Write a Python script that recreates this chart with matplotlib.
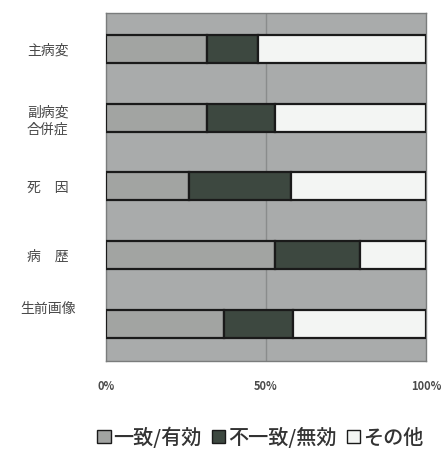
import numpy as np
import matplotlib.pyplot as plt
import matplotlib.transforms as mtransforms
from matplotlib.patches import Patch

plt.rcParams['font.family'] = ['Noto Sans CJK JP', 'DejaVu Sans']

categories = ['主病変', '副病変\n合併症', '死　因', '病　歴', '生前画像']
agree = [31.5, 31.5, 26.0, 53.0, 37.0]      # 一致/有効
disagree = [16.0, 21.5, 32.0, 26.5, 21.5]   # 不一致/無効
other = [52.5, 47.0, 42.0, 20.5, 41.5]      # その他
legend_labels = ['一致/有効', '不一致/無効', 'その他']
xticks = [0, 50, 100]

colors = ['#a2a4a2', '#3d4840', '#f3f5f3']
text_color = '#4a4a4a'

fig = plt.figure(figsize=(4.45, 4.53), dpi=100)
ax = fig.add_axes([0.238, 0.203, 0.719, 0.768])
ax.set_facecolor('#a9abab')

y = np.arange(len(categories))
left = np.zeros(len(categories))
for vals, c in zip([agree, disagree, other], colors):
    ax.barh(y, vals, left=left, height=0.41, color=c,
            edgecolor='#1a1a1a', linewidth=1.6, zorder=3)
    left += np.array(vals)

ax.axvline(50, color='#8a8c8c', linewidth=1.0, zorder=1)

ax.set_xlim(0, 100)
ax.set_ylim(len(categories) - 1 + 0.54, -0.52)

ax.set_yticks(y)
ax.set_yticklabels(categories, fontsize=10, color=text_color, linespacing=1.3)
ax.set_xticks(xticks)
ax.set_xticklabels([f'{v}%' for v in xticks], fontsize=8,
                   color=text_color, fontweight='bold')
ax.tick_params(length=0, axis='y', pad=42)
ax.tick_params(length=0, axis='x', pad=14)
for lbl in ax.get_yticklabels():
    lbl.set_horizontalalignment('center')

# the last label sits a little above its bar
last = ax.get_yticklabels()[-1]
last.set_transform(last.get_transform() +
                   mtransforms.ScaledTranslation(0, 12 / 72, fig.dpi_scale_trans))

for s in ax.spines.values():
    s.set_color('#7a7c7c')
    s.set_linewidth(1.0)

handles = [Patch(facecolor=c, edgecolor='#1a1a1a', linewidth=1.0) for c in colors]
fig.legend(handles, legend_labels, loc='center', bbox_to_anchor=(0.585, 0.035),
           ncol=3, frameon=False, fontsize=14.5, handlelength=0.65,
           handleheight=0.65, handletextpad=0.15, columnspacing=0.5,
           labelcolor='#333333', prop={'weight': 'medium', 'size': 14.5})

fig.savefig('out.png', dpi=100)
